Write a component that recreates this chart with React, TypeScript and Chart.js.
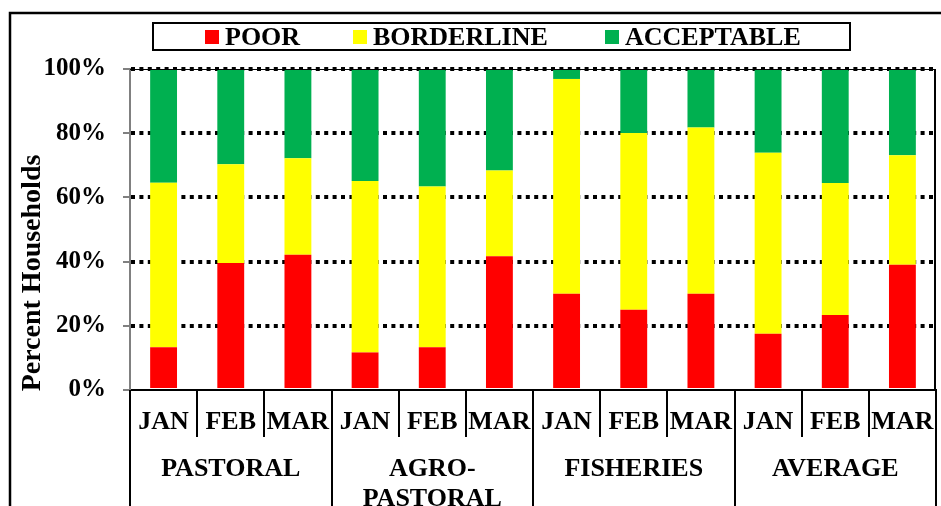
import React, { useEffect, useRef } from "react";
import { Chart, registerables } from "chart.js";

Chart.register(...registerables);

const months = ["JAN", "FEB", "MAR", "JAN", "FEB", "MAR", "JAN", "FEB", "MAR", "JAN", "FEB", "MAR"];
const groups = [["PASTORAL"], ["AGRO-", "PASTORAL"], ["FISHERIES"], ["AVERAGE"]];
const seriesNames = ["POOR", "BORDERLINE", "ACCEPTABLE"];
const poor = [13.3, 39.6, 42.1, 11.7, 13.3, 41.7, 30, 25, 30, 17.5, 23.4, 39];
const borderline = [51.3, 30.7, 30.1, 53.4, 50.1, 26.7, 66.9, 55.1, 51.8, 56.4, 41.1, 34.1];
const acceptable = [35.4, 29.7, 27.8, 34.9, 36.6, 31.6, 3.1, 19.9, 18.2, 26.1, 35.5, 26.9];
const yTicks = [0, 20, 40, 60, 80, 100];
const colors = ["#FF0000", "#FFFF00", "#00B050"];
const yTitle = "Percent Households";

const FONT = "'Liberation Serif', 'Times New Roman', serif";

const decorPlugin = {
  id: "decor",
  afterDraw(chart: any) {
    const ctx = chart.ctx as CanvasRenderingContext2D;
    const { left, right, top, bottom } = chart.chartArea;
    const xs = chart.scales.x;
    ctx.save();
    // outer border
    ctx.strokeStyle = "#000";
    ctx.lineWidth = 2.5;
    ctx.strokeRect(10, 13, 960, 520);
    // top thin line + right border of plot
    ctx.lineWidth = 1;
    ctx.beginPath();
    ctx.moveTo(left, top + 0.5);
    ctx.lineTo(right, top + 0.5);
    ctx.stroke();
    ctx.lineWidth = 2;
    ctx.beginPath();
    ctx.moveTo(right - 1, top);
    ctx.lineTo(right - 1, bottom);
    ctx.stroke();

    // legend
    ctx.lineWidth = 2;
    ctx.strokeRect(153, 23, 697, 27);
    const legendX = [205, 353, 605];
    ctx.font = `bold 26px ${FONT}`;
    ctx.textBaseline = "alphabetic";
    ctx.textAlign = "left";
    chart.data.datasets.forEach((ds: any, i: number) => {
      ctx.fillStyle = ds.backgroundColor;
      ctx.fillRect(legendX[i], 30, 14, 14);
      ctx.fillStyle = "#000";
      ctx.fillText(ds.label, legendX[i] + 20, 45);
    });

    // x labels, two levels
    const n = chart.data.labels.length;
    const step = (right - left) / n;
    ctx.fillStyle = "#000";
    ctx.textAlign = "center";
    ctx.textBaseline = "middle";
    ctx.font = `bold 26px ${FONT}`;
    for (let i = 0; i < n; i++) {
      const x = xs.getPixelForValue(i);
      ctx.fillText(chart.data.labels[i], x, 422);
    }
    ctx.lineWidth = 2;
    ctx.strokeStyle = "#000";
    for (let k = 0; k <= n; k++) {
      const x = Math.round(left + k * step);
      ctx.beginPath();
      ctx.moveTo(x, bottom);
      ctx.lineTo(x, k % 3 === 0 ? 506 : 437);
      ctx.stroke();
    }
    groups.forEach((g, gi) => {
      const x = (xs.getPixelForValue(gi * 3) + xs.getPixelForValue(gi * 3 + 2)) / 2;
      g.forEach((line, li) => {
        ctx.fillText(line, x, 469 + li * 30);
      });
    });

    // y title
    ctx.save();
    ctx.translate(33, 273);
    ctx.rotate(-Math.PI / 2);
    ctx.font = `bold 28px ${FONT}`;
    ctx.textAlign = "center";
    ctx.textBaseline = "middle";
    ctx.fillText(yTitle, 0, 0);
    ctx.restore();

    ctx.restore();
  },
};

export default function App() {
  const ref = useRef<HTMLCanvasElement | null>(null);
  useEffect(() => {
    document.body.style.margin = "0";
    const canvas = ref.current!;
    const chart = new Chart(canvas, {
      type: "bar",
      data: {
        labels: months,
        datasets: [
          { label: seriesNames[0], data: poor, backgroundColor: colors[0] },
          { label: seriesNames[1], data: borderline, backgroundColor: colors[1] },
          { label: seriesNames[2], data: acceptable, backgroundColor: colors[2] },
        ],
      },
      options: {
        responsive: false,
        animation: false,
        devicePixelRatio: 1,
        layout: { padding: { top: 69, right: 5, left: 0, bottom: 0 } },
        datasets: { bar: { categoryPercentage: 1, barPercentage: 0.4, borderWidth: 0 } },
        plugins: { legend: { display: false }, tooltip: { enabled: false }, title: { display: false } },
        scales: {
          x: {
            stacked: true,
            ticks: { display: false },
            grid: { display: false },
            border: { display: true, color: "#000", width: 2 },
            afterFit: (s: any) => {
              s.height = 116;
            },
          },
          y: {
            stacked: true,
            min: 0,
            max: 100,
            afterBuildTicks: (s: any) => {
              s.ticks = yTicks.map((v) => ({ value: v }));
            },
            ticks: {
              callback: (v: any) => v + "%",
              color: "#000",
              font: { family: FONT, size: 25, weight: "bold" },
              padding: 17,
            },
            grid: {
              color: (c: any) => (c.tick && c.tick.value === 0 ? "rgba(0,0,0,0)" : "#000"),
              lineWidth: 4,
              tickColor: "#808080",
              tickWidth: 2,
              tickLength: 7,
              tickBorderDash: [],
            },
            border: { display: true, color: "#808080", width: 2, dash: [4, 4.4] },
            afterFit: (s: any) => {
              s.width = 130;
            },
          },
        },
      },
      plugins: [decorPlugin],
    } as any);
    return () => chart.destroy();
  }, []);
  return (
    <div style={{ position: "absolute", left: 0, top: 0, width: 941, height: 506, background: "#fff" }}>
      <canvas ref={ref} width={941} height={506} style={{ width: 941, height: 506 }} />
    </div>
  );
}
